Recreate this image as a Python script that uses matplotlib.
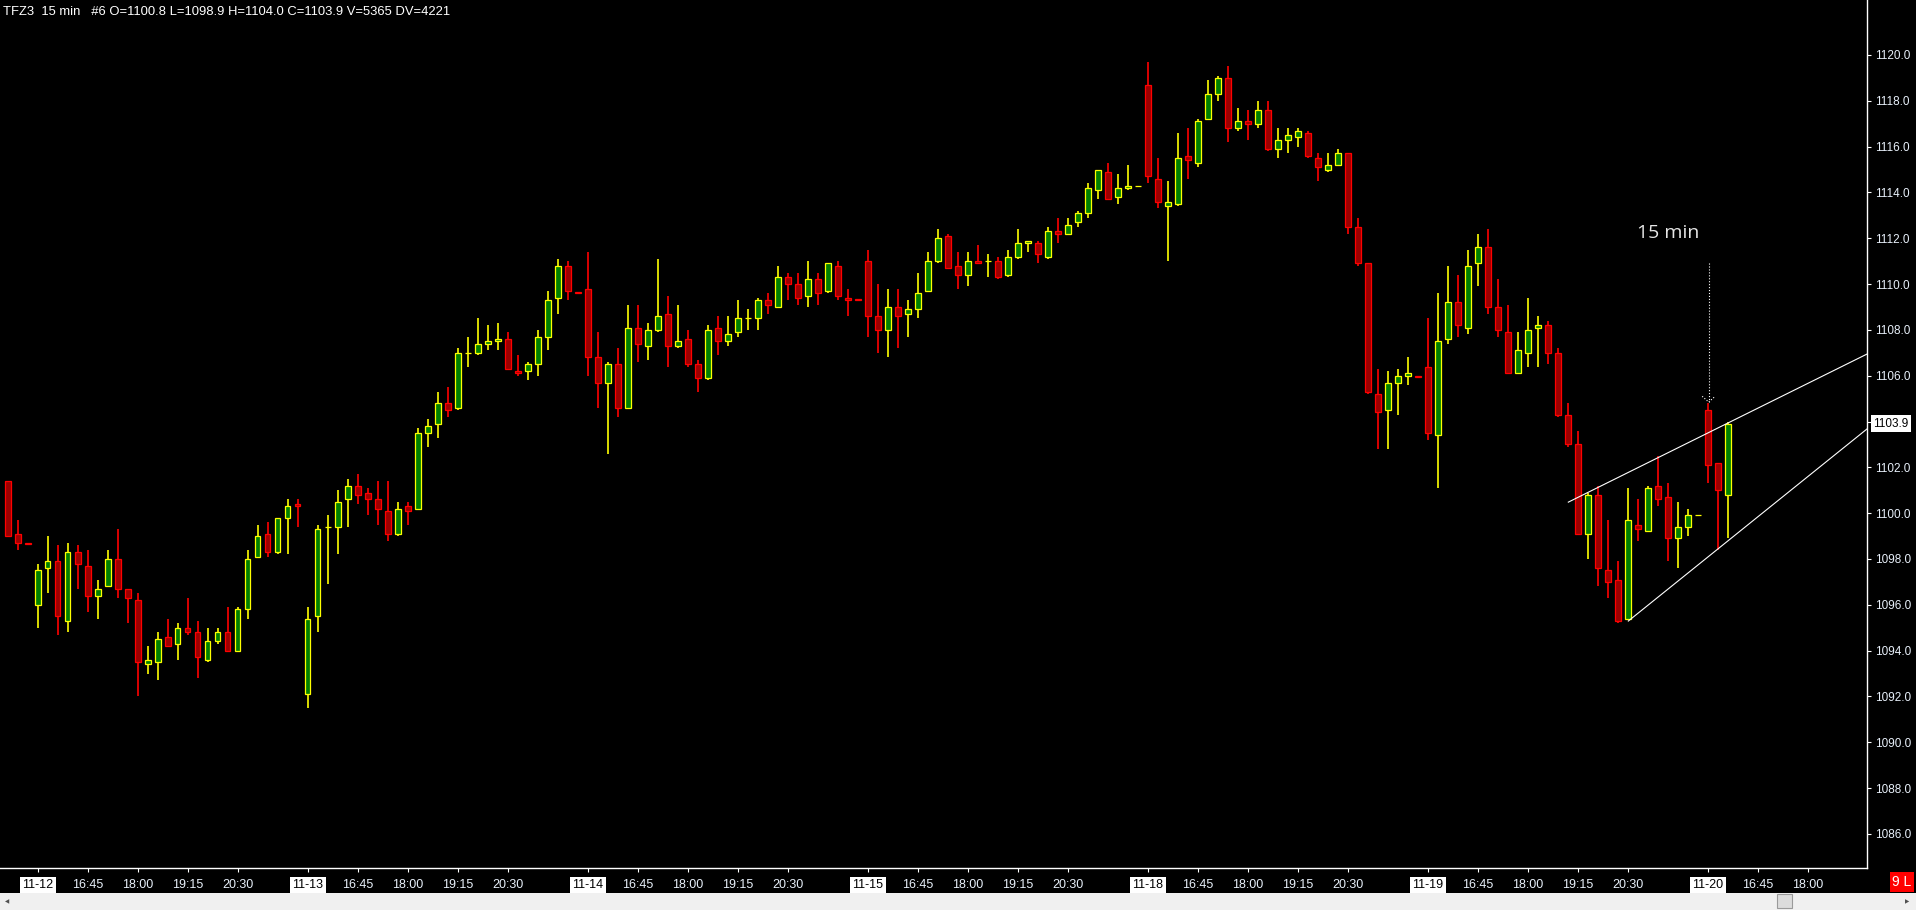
import numpy as np
import matplotlib
matplotlib.use('Agg')
import matplotlib.pyplot as plt
from matplotlib import font_manager
from matplotlib.patches import Rectangle
from matplotlib.transforms import blended_transform_factory

# 15 min bars, TFZ3
opens = [1101.4, 1099.1, 1098.7, 1096.0, 1097.6, 1097.9, 1095.3, 1098.3, 1097.7, 1096.4,
         1096.8, 1098.0, 1096.7, 1096.2, 1093.4, 1093.5, 1094.6, 1094.3, 1095.0, 1094.8,
         1093.6, 1094.4, 1094.8, 1094.0, 1095.8, 1098.1, 1099.1, 1098.3, 1099.8, 1100.4,
         1092.1, 1095.5, 1099.4, 1099.4, 1100.6, 1101.2, 1100.9, 1100.6, 1100.1, 1099.1,
         1100.3, 1100.2, 1103.5, 1103.9, 1104.8, 1104.6, 1107.0, 1107.0, 1107.4, 1107.5,
         1107.6, 1106.2, 1106.2, 1106.5, 1107.7, 1109.4, 1110.8, 1109.65, 1109.8, 1106.8,
         1105.7, 1106.5, 1104.6, 1108.1, 1107.3, 1108.0, 1108.7, 1107.3, 1107.6, 1106.5,
         1105.9, 1108.1, 1107.5, 1107.9, 1108.5, 1108.5, 1109.3, 1109.0, 1110.3, 1110.0,
         1109.5, 1110.2, 1109.7, 1110.8, 1109.4, 1109.35, 1111.0, 1108.6, 1108.0, 1109.0,
         1108.7, 1108.9, 1109.7, 1111.0, 1112.1, 1110.8, 1110.4, 1111.0, 1111.0, 1111.0,
         1110.4, 1111.2, 1111.8, 1111.8, 1111.2, 1112.3, 1112.2, 1112.7, 1113.1, 1114.1,
         1114.9, 1113.8, 1114.2, 1114.3, 1118.7, 1114.6, 1113.4, 1113.5, 1115.6, 1115.3,
         1117.2, 1118.3, 1119.0, 1116.8, 1117.1, 1117.0, 1117.6, 1115.9, 1116.3, 1116.4,
         1116.6, 1115.5, 1115.0, 1115.2, 1115.7, 1112.5, 1110.9, 1105.2, 1104.5, 1105.7,
         1106.0, 1106.0, 1106.4, 1103.4, 1107.6, 1109.2, 1108.1, 1110.9, 1111.6, 1109.0,
         1107.9, 1106.1, 1107.0, 1108.1, 1108.2, 1107.0, 1104.3, 1103.0, 1099.1, 1100.8,
         1097.5, 1097.1, 1095.4, 1099.5, 1099.2, 1101.2, 1100.7, 1098.9, 1099.4, 1099.9,
         1104.5, 1102.2, 1100.8]
highs = [1101.4, 1099.7, 1098.7, 1097.8, 1099.0, 1098.6, 1098.7, 1098.6, 1098.4, 1097.1,
         1098.4, 1099.3, 1096.7, 1096.5, 1094.2, 1094.8, 1095.4, 1095.2, 1096.3, 1095.3,
         1095.0, 1095.0, 1095.9, 1095.9, 1098.4, 1099.5, 1099.6, 1099.8, 1100.6, 1100.6,
         1095.9, 1099.5, 1099.9, 1101.0, 1101.5, 1101.7, 1101.1, 1101.4, 1101.4, 1100.5,
         1100.5, 1103.7, 1104.1, 1105.3, 1105.5, 1107.2, 1107.7, 1108.5, 1108.2, 1108.3,
         1107.9, 1106.9, 1106.6, 1108.0, 1109.7, 1111.1, 1111.0, 1109.65, 1111.4, 1107.9,
         1106.6, 1107.2, 1109.1, 1109.1, 1108.3, 1111.1, 1109.5, 1109.1, 1108.0, 1106.7,
         1108.2, 1108.6, 1108.6, 1109.3, 1108.9, 1109.4, 1109.6, 1110.8, 1110.5, 1110.5,
         1111.0, 1110.5, 1110.9, 1111.0, 1109.8, 1109.35, 1111.5, 1110.0, 1109.8, 1109.8,
         1109.3, 1110.5, 1111.4, 1112.4, 1112.2, 1111.4, 1111.4, 1111.7, 1111.3, 1111.2,
         1111.5, 1112.4, 1111.9, 1111.9, 1112.5, 1112.9, 1112.9, 1113.2, 1114.4, 1115.0,
         1115.3, 1114.8, 1115.2, 1114.3, 1119.7, 1115.5, 1114.5, 1116.6, 1116.8, 1117.2,
         1118.9, 1119.1, 1119.5, 1117.7, 1117.6, 1118.0, 1118.0, 1116.8, 1116.8, 1116.8,
         1116.7, 1115.7, 1115.7, 1115.9, 1115.7, 1112.9, 1110.9, 1106.3, 1106.2, 1106.3,
         1106.8, 1106.0, 1108.5, 1109.6, 1110.8, 1110.4, 1111.5, 1112.2, 1112.4, 1110.2,
         1109.1, 1107.9, 1109.4, 1108.6, 1108.4, 1107.2, 1104.8, 1103.6, 1100.9, 1101.2,
         1099.7, 1097.9, 1101.1, 1100.6, 1101.2, 1102.5, 1101.3, 1100.5, 1100.2, 1099.9,
         1104.8, 1102.2, 1104.0]
lows = [1099.0, 1098.4, 1098.6, 1095.0, 1096.5, 1094.7, 1094.8, 1096.7, 1095.7, 1095.4,
        1096.8, 1096.3, 1095.2, 1092.0, 1093.0, 1092.7, 1094.2, 1093.6, 1094.7, 1092.8,
        1093.5, 1094.3, 1094.0, 1094.0, 1095.4, 1098.1, 1098.1, 1098.2, 1098.2, 1099.4,
        1091.5, 1094.8, 1096.9, 1098.2, 1099.4, 1100.4, 1099.9, 1099.5, 1098.8, 1099.0,
        1099.5, 1100.2, 1102.9, 1103.3, 1104.2, 1104.5, 1106.4, 1106.9, 1107.1, 1107.1,
        1106.3, 1106.0, 1105.8, 1106.0, 1107.1, 1108.7, 1109.3, 1109.6, 1106.0, 1104.6,
        1102.6, 1104.2, 1104.6, 1106.6, 1106.7, 1107.9, 1106.4, 1107.2, 1106.4, 1105.3,
        1105.8, 1106.9, 1107.3, 1107.7, 1108.0, 1108.0, 1108.7, 1109.0, 1109.3, 1109.1,
        1109.0, 1109.1, 1109.6, 1109.3, 1108.6, 1109.3, 1107.7, 1107.0, 1106.8, 1107.2,
        1107.7, 1108.5, 1109.7, 1110.9, 1110.7, 1109.8, 1109.9, 1110.9, 1110.3, 1110.2,
        1110.3, 1111.1, 1111.4, 1110.9, 1111.1, 1111.8, 1112.2, 1112.5, 1112.9, 1113.7,
        1113.7, 1113.5, 1114.1, 1114.3, 1114.4, 1113.3, 1111.0, 1113.4, 1114.6, 1115.1,
        1117.2, 1118.0, 1116.2, 1116.7, 1116.3, 1116.8, 1115.8, 1115.5, 1115.7, 1116.0,
        1115.5, 1114.5, 1114.9, 1115.2, 1112.2, 1110.8, 1105.2, 1102.8, 1102.8, 1104.3,
        1105.6, 1105.95, 1103.2, 1101.1, 1107.4, 1107.7, 1107.8, 1109.9, 1108.7, 1107.7,
        1106.1, 1106.1, 1106.4, 1106.4, 1106.5, 1104.2, 1102.9, 1099.1, 1098.0, 1096.8,
        1096.3, 1095.2, 1095.4, 1098.8, 1099.2, 1100.3, 1097.9, 1097.6, 1099.0, 1099.9,
        1101.3, 1098.4, 1098.9]
closes = [1099.0, 1098.7, 1098.65, 1097.5, 1097.9, 1095.5, 1098.3, 1097.8, 1096.4, 1096.7,
          1098.0, 1096.7, 1096.3, 1093.5, 1093.6, 1094.5, 1094.2, 1095.0, 1094.8, 1093.7,
          1094.4, 1094.8, 1094.0, 1095.8, 1098.0, 1099.0, 1098.3, 1099.8, 1100.3, 1100.3,
          1095.4, 1099.3, 1099.4, 1100.5, 1101.2, 1100.8, 1100.6, 1100.2, 1099.1, 1100.2,
          1100.1, 1103.5, 1103.8, 1104.8, 1104.5, 1107.0, 1107.0, 1107.4, 1107.5, 1107.6,
          1106.3, 1106.1, 1106.5, 1107.7, 1109.3, 1110.8, 1109.7, 1109.6, 1106.8, 1105.7,
          1106.5, 1104.6, 1108.1, 1107.4, 1108.0, 1108.6, 1107.3, 1107.5, 1106.5, 1105.9,
          1108.0, 1107.5, 1107.8, 1108.5, 1108.5, 1109.3, 1109.1, 1110.3, 1110.0, 1109.4,
          1110.2, 1109.6, 1110.9, 1109.5, 1109.3, 1109.3, 1108.6, 1108.0, 1109.0, 1108.6,
          1108.9, 1109.6, 1111.0, 1112.0, 1110.7, 1110.4, 1111.0, 1110.9, 1111.0, 1110.3,
          1111.2, 1111.8, 1111.9, 1111.3, 1112.3, 1112.2, 1112.6, 1113.1, 1114.2, 1115.0,
          1113.7, 1114.2, 1114.3, 1114.3, 1114.7, 1113.6, 1113.6, 1115.5, 1115.4, 1117.1,
          1118.3, 1119.0, 1116.8, 1117.1, 1117.0, 1117.6, 1115.9, 1116.3, 1116.5, 1116.7,
          1115.6, 1115.1, 1115.2, 1115.7, 1112.5, 1110.9, 1105.3, 1104.4, 1105.7, 1106.0,
          1106.1, 1105.95, 1103.5, 1107.5, 1109.2, 1108.2, 1110.8, 1111.6, 1109.0, 1108.0,
          1106.1, 1107.1, 1108.0, 1108.2, 1107.0, 1104.3, 1103.0, 1099.1, 1100.8, 1097.6,
          1097.0, 1095.3, 1099.7, 1099.3, 1101.1, 1100.6, 1098.9, 1099.4, 1099.9, 1099.9,
          1102.1, 1101.0, 1103.9]

# x axis: bar index of each session start + time labels inside a session
day_start = [3, 30, 58, 86, 114, 142, 170]
day_label = ['11-12', '11-13', '11-14', '11-15', '11-18', '11-19', '11-20']
time_offset = [5, 10, 15, 20]
time_label = ['16:45', '18:00', '19:15', '20:30']
y_ticks = np.arange(1086, 1121, 2)

# drawings on the chart (bar index, price)
upper_line_x = [156.06, 186.0]
upper_line_y = [1100.48, 1106.96]
lower_line_x = [162.06, 186.0]
lower_line_y = [1095.29, 1103.70]
note_x, note_y = 166.0, 1112.24
arrow_x, arrow_top, arrow_tip = 170.1, 1110.9, 1104.85
last_price = 1103.9
title = 'TFZ3  15 min   #6 O=1100.8 L=1098.9 H=1104.0 C=1103.9 V=5365 DV=4221'

plt.rcParams['font.family'] = ['Liberation Sans', 'DejaVu Sans']
installed = {f.name for f in font_manager.fontManager.ttflist}
if 'Liberation Sans Narrow' in installed:
    xfont, xsize = 'Liberation Sans Narrow', 10.5
else:
    xfont, xsize = 'Liberation Sans', 9

W, H = 1916, 910
fig = plt.figure(figsize=(W / 100, H / 100), dpi=100, facecolor='black')
ax = fig.add_axes([0, 42 / H, 1867 / W, 868 / H], facecolor='black')

o = np.array(opens)
h = np.array(highs)
l = np.array(lows)
c = np.array(closes)
x = np.arange(len(o))
up = c >= o
line_col = ['#ffff00' if u else '#ff0000' for u in up]
body_col = ['#008000' if u else '#9c0000' for u in up]

ax.vlines(x, l, h, colors=line_col, linewidth=1.2, zorder=1)
ax.bar(x, np.abs(c - o), bottom=np.minimum(o, c), width=0.56,
       color=body_col, edgecolor=line_col, linewidth=0.9, zorder=2)

# trend lines + note
ax.plot(upper_line_x, upper_line_y, color='white', lw=0.8, zorder=3)
ax.plot(lower_line_x, lower_line_y, color='white', lw=0.8, zorder=3)
ax.plot([arrow_x, arrow_x], [arrow_top, arrow_tip], color='white', lw=0.8, ls=':', zorder=3)
ax.plot([arrow_x - 0.65, arrow_x, arrow_x + 0.65], [arrow_tip + 0.25, arrow_tip, arrow_tip + 0.25],
        color='white', lw=0.8, ls=':', zorder=3)
ax.text(note_x, note_y, '15 min', ha='center', va='center', color='#e6e6e6',
        fontsize=14, family=['Open Sans', 'DejaVu Sans'])

ax.set_xlim(-0.77, 185.93)
ax.set_ylim(1084.51, 1122.40)

for s in ['top', 'left']:
    ax.spines[s].set_visible(False)
for s in ['bottom', 'right']:
    ax.spines[s].set_color('white')
    ax.spines[s].set_linewidth(1)

ax.yaxis.tick_right()
ax.set_yticks(y_ticks, [f'{v:.1f}' for v in y_ticks])
ax.tick_params(axis='y', colors='white', labelcolor='#e8f0fa', length=3, width=0.8,
               pad=3, labelsize=8.5)

xt, xl = [], []
for d, lab in zip(day_start, day_label):
    xt.append(d)
    xl.append(lab)
    for off, tl in zip(time_offset, time_label):
        if d + off <= 182:
            xt.append(d + off)
            xl.append(tl)
ax.set_xticks(xt, xl)
ax.tick_params(axis='x', colors='white', labelcolor='#e8f0fa', length=3, width=0.8,
               pad=5, labelsize=xsize)
for lbl in ax.get_xticklabels():
    lbl.set_fontfamily(xfont)
    if '-' in lbl.get_text():
        lbl.set_color('black')
        lbl.set_bbox(dict(boxstyle='square,pad=0.2', fc='white', ec='none'))

# last price box on the axis
tr = blended_transform_factory(ax.transAxes, ax.transData)
ax.text(1 + 6 / 1867, last_price, f'{last_price:.1f}', transform=tr, ha='left', va='center',
        fontsize=8.5, color='black', clip_on=False,
        bbox=dict(boxstyle='square,pad=0.2', fc='white', ec='none'))

fig.text(3 / W, 1 - 12 / H, title, ha='left', va='center', color='white', fontsize=9.4)

# scroll bar + status box
fig.patches.append(Rectangle((0, 0), 1, 17 / H, transform=fig.transFigure,
                             facecolor='#f0f0f0', edgecolor='none'))
fig.patches.append(Rectangle((1777 / W, 2 / H), 15 / W, 14 / H, transform=fig.transFigure,
                             facecolor='#dcdcdc', edgecolor='#9a9a9a', lw=0.8))
fig.text(7 / W, 8.5 / H, '◀', fontsize=4, color='#505050', ha='center', va='center',
         family='DejaVu Sans')
fig.text(1907 / W, 8.5 / H, '▶', fontsize=4, color='#505050', ha='center', va='center',
         family='DejaVu Sans')
fig.text(1902 / W, 28 / H, '9 L', ha='center', va='center', color='white', fontsize=10,
         bbox=dict(boxstyle='square,pad=0.2', fc='#ff0000', ec='none'))

fig.savefig('out.png', dpi=100, facecolor='black')
